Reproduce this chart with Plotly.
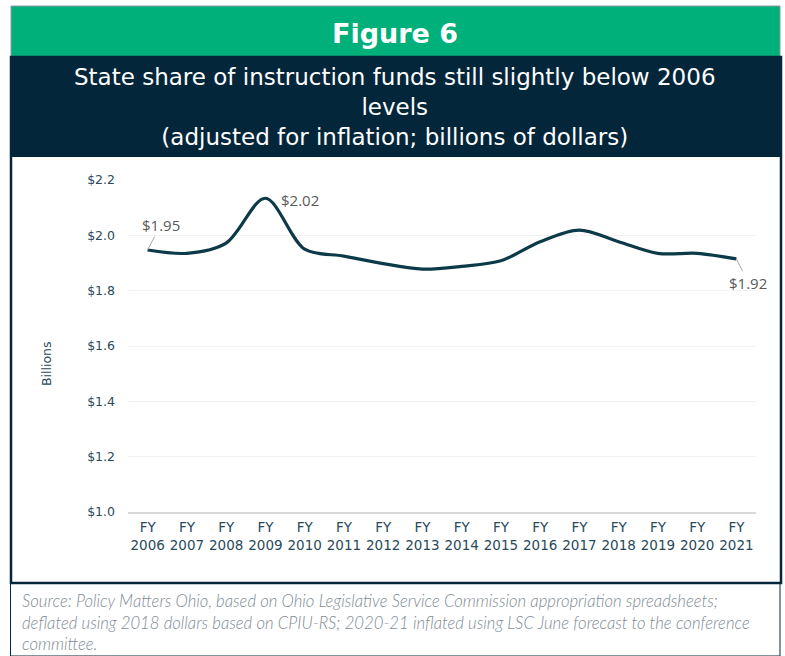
import plotly.graph_objects as go

categories = ["FY<br>2006", "FY<br>2007", "FY<br>2008", "FY<br>2009", "FY<br>2010", "FY<br>2011",
              "FY<br>2012", "FY<br>2013", "FY<br>2014", "FY<br>2015", "FY<br>2016", "FY<br>2017",
              "FY<br>2018", "FY<br>2019", "FY<br>2020", "FY<br>2021"]
values = [1.947, 1.935, 1.972, 2.134, 1.950, 1.925, 1.898, 1.878, 1.888, 1.908,
          1.977, 2.019, 1.977, 1.935, 1.935, 1.915]
label_idx = [0, 3, 15]
label_text = ["$1.95", "$2.02", "$1.92"]
y_ticks = [1.0, 1.2, 1.4, 1.6, 1.8, 2.0, 2.2]
y_tick_text = ["$1.0", "$1.2", "$1.4", "$1.6", "$1.8", "$2.0", "$2.2"]
source_lines = [
    "Source: Policy Matters Ohio, based on Ohio Legislative Service Commission appropriation spreadsheets;",
    "deflated using 2018 dollars based on CPIU-RS; 2020-21 inflated using LSC June forecast to the conference",
    "committee.",
]

W, H = 785, 656
L, R, T, B = 128, 29, 180, 144
PW, PH = W - L - R, H - T - B

def px(x):
    return (x - L) / PW

def py(y):
    return (H - B - y) / PH

NAVY = "#04263B"
GREEN = "#00B07B"
LINE = "#0C3A49"
TICK = "#29495A"

fig = go.Figure()
fig.add_trace(go.Scatter(
    x=categories, y=values, mode="lines",
    line=dict(color=LINE, width=3.2, shape="spline", smoothing=0.9),
    hoverinfo="skip", showlegend=False,
))

shapes = [
    dict(type="rect", xref="paper", yref="paper", x0=px(11), x1=px(780), y0=py(57), y1=py(6),
         fillcolor=GREEN, line=dict(color="#8A9AA4", width=1), layer="below"),
    dict(type="rect", xref="paper", yref="paper", x0=px(11), x1=px(781), y0=py(157), y1=py(57),
         fillcolor=NAVY, line=dict(width=0), layer="below"),
    dict(type="rect", xref="paper", yref="paper", x0=px(11), x1=px(781), y0=py(583), y1=py(57),
         fillcolor="rgba(0,0,0,0)", line=dict(color=NAVY, width=2.5), layer="below"),
    dict(type="rect", xref="paper", yref="paper", x0=px(10.5), x1=px(780), y0=py(656), y1=py(583),
         fillcolor="rgba(0,0,0,0)", line=dict(color=NAVY, width=1), layer="below"),
]

annotations = [
    dict(xref="paper", yref="paper", x=px(395), y=py(33), text="<b>Figure 6</b>", showarrow=False,
         font=dict(family="DejaVu Sans", size=27, color="white"), xanchor="center", yanchor="middle"),
    dict(xref="paper", yref="paper", x=px(395), y=py(107),
         text="State share of instruction funds still slightly below 2006<br>levels<br>(adjusted for inflation; billions of dollars)",
         showarrow=False, font=dict(family="DejaVu Sans", size=23, color="white"),
         xanchor="center", yanchor="middle", align="center"),
    dict(xref="paper", yref="paper", x=px(46), y=py(364), text="Billions", textangle=-90,
         showarrow=False, font=dict(family="DejaVu Sans", size=12.5, color=TICK),
         xanchor="center", yanchor="middle"),
    dict(xref="paper", yref="paper", x=px(20), y=py(622),
         text="<br>".join("<i>" + s + "</i>" for s in source_lines), showarrow=False,
         font=dict(family="Lato", size=16.7, color="#7E8B94", weight=300),
         xanchor="left", yanchor="middle", align="left"),
]

label_font = dict(family="Open Sans", size=15, color="#595959")
annotations.append(dict(x=categories[label_idx[0]], y=values[label_idx[0]], text=label_text[0],
                        showarrow=True, arrowhead=0, arrowwidth=1, arrowcolor="#A6A6A6",
                        ax=13, ay=-25, font=label_font))
annotations.append(dict(x=categories[label_idx[1]], y=values[label_idx[1]], text=label_text[1],
                        showarrow=False, xanchor="left", yanchor="middle", xshift=14, yshift=-2,
                        font=label_font))
annotations.append(dict(x=categories[label_idx[2]], y=values[label_idx[2]], text=label_text[2],
                        showarrow=True, arrowhead=0, arrowwidth=1, arrowcolor="#A6A6A6",
                        ax=12, ay=24, font=label_font))

fig.update_layout(
    width=W, height=H,
    margin=dict(l=L, r=R, t=T, b=B, pad=0),
    paper_bgcolor="white", plot_bgcolor="white",
    shapes=shapes, annotations=annotations,
    font=dict(family="Open Sans"),
    xaxis=dict(
        showgrid=False, showline=True, linecolor="#D9D9D9", linewidth=2,
        tickfont=dict(family="DejaVu Sans", size=13.5, color=TICK),
        ticks="", ticklabelstandoff=2, fixedrange=True,
        range=[-0.5, len(categories) - 0.5],
    ),
    yaxis=dict(
        range=[1.0, 2.2], tickvals=y_ticks, ticktext=y_tick_text,
        showgrid=True, gridcolor="#F2F2F2", gridwidth=1, zeroline=False,
        tickfont=dict(family="DejaVu Sans", size=12.5, color=TICK),
        ticks="", ticklabelstandoff=12, showline=False, fixedrange=True,
    ),
)

fig.write_html("out.html", config={"displayModeBar": False},
               post_script="document.body.style.margin='0';")
